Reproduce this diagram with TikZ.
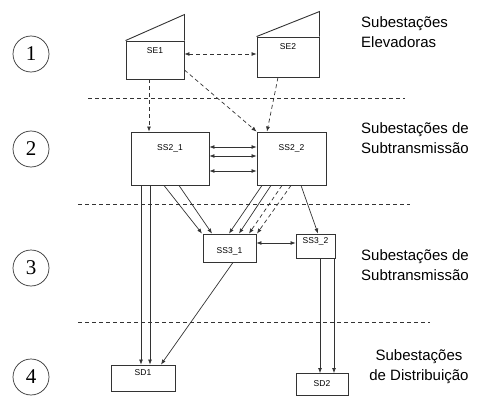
\documentclass[tikz,border=0pt]{standalone}
\usepackage{fontspec}
\setmainfont{Liberation Sans}
\newfontfamily\numfont{Liberation Serif}
\usepackage{xcolor}
\usetikzlibrary{arrows.meta,positioning}
\definecolor{linegray}{HTML}{333333}

\begin{document}
\begin{tikzpicture}[
  x=1pt,
  y=-1pt,
  station/.style={draw=linegray, line width=0.9pt, fill=white, inner sep=0pt},
  boxlabel/.style={font=\fontsize{8.5}{10}\selectfont, anchor=center, inner sep=0pt},
  levelmark/.style={draw=linegray, circle, minimum size=36pt, inner sep=0pt, line width=0.7pt,
    font=\numfont\fontsize{21}{21}\selectfont},
  levelname/.style={font=\fontsize{15}{20}\selectfont, align=left, anchor=west, inner sep=0pt},
  arrow/.style={-{Latex[length=5pt,width=4pt]}, line width=0.7pt, draw=linegray},
  twoway/.style={{Latex[length=5pt,width=4pt]}-{Latex[length=5pt,width=4pt]}, line width=0.7pt, draw=linegray},
  dashedline/.style={dash pattern=on 4pt off 3pt},
  separator/.style={draw=linegray, line width=0.7pt, dash pattern=on 4pt off 3pt}
]
\useasboundingbox (0,0) rectangle (477,396);

\node[levelmark] (n1) at (31,54) {1};
\node[levelmark] (n2) at (31,149) {2};
\node[levelmark] (n3) at (31,268) {3};
\node[levelmark] (n4) at (31,377) {4};

\node[levelname] (cap1) at (361,32) {Subestações\\Elevadoras};
\node[levelname] (cap2) at (361,138) {Subestações de\\Subtransmissão};
\node[levelname] (cap3) at (361,265) {Subestações de\\Subtransmissão};
\node[levelname, align=center, anchor=center] (cap4) at (419,367) {Subestações\\de Distribuição};

\draw[separator] (88,98) -- (405,98);
\draw[separator] (78,204) -- (410,204);
\draw[separator] (78,322) -- (430,322);

\node[station, minimum width=58pt, minimum height=38pt, label={[boxlabel,yshift=-10pt]north:SE1}] (se1) at (155,60) {};
\node[station, minimum width=62pt, minimum height=40pt, label={[boxlabel,yshift=-10pt]north:SE2}] (se2) at (288,57) {};
\draw[linegray, line width=0.9pt] (se1.north west) -- ([yshift=26pt]se1.north east) -- (se1.north east);
\draw[linegray, line width=0.9pt] (se2.north west) -- ([yshift=25pt]se2.north east) -- (se2.north east);

\node[station, minimum width=78pt, minimum height=53pt, label={[boxlabel,yshift=-17pt]north:SS2\_1}] (ss21) at (170,158.5) {};
\node[station, minimum width=69pt, minimum height=53pt, label={[boxlabel,yshift=-17pt]north:SS2\_2}] (ss22) at (291.5,158.5) {};
\node[station, minimum width=53pt, minimum height=28pt, label={[boxlabel,yshift=-18pt]north:SS3\_1}] (ss31) at (229.5,248) {};
\node[station, minimum width=39pt, minimum height=24pt, label={[boxlabel,yshift=-8pt]north:SS3\_2}] (ss32) at (315.5,246) {};
\node[station, minimum width=64pt, minimum height=26pt, label={[boxlabel,yshift=-8pt]north:SD1}] (sd1) at (143,378) {};
\node[station, minimum width=52pt, minimum height=22pt, label={[boxlabel,yshift=-11pt]north:SD2}] (sd2) at (322,384.5) {};

\draw[twoway, dashedline] ([yshift=6pt]se1.east) -- ([yshift=3pt]se2.west);
\draw[arrow, dashedline] ([xshift=-6pt]se1.south) -- ([xshift=-21pt]ss21.north);
\draw[arrow, dashedline] ([yshift=-10pt]se1.east) -- (ss22.north west);
\draw[arrow, dashedline] ([xshift=-10pt]se2.south) -- ([xshift=-24.5pt]ss22.north);

\draw[twoway] ([yshift=11.5pt]ss21.east) -- ([yshift=11.5pt]ss22.west);
\draw[twoway] ([yshift=2.5pt]ss21.east) -- ([yshift=2.5pt]ss22.west);
\draw[twoway] ([yshift=-12.5pt]ss21.east) -- ([yshift=-12.5pt]ss22.west);

\draw[arrow] ([xshift=-6pt]ss21.south) -- ([xshift=-27.5pt]ss31.north);
\draw[arrow] ([xshift=9pt]ss21.south) -- ([xshift=-17.5pt]ss31.north);
\draw[arrow] ([xshift=-29.5pt]ss22.south) -- ([xshift=-0.5pt]ss31.north);
\draw[arrow] ([xshift=-20.5pt]ss22.south) -- ([xshift=9.5pt]ss31.north);
\draw[arrow, dashedline] ([xshift=-9.5pt]ss22.south) -- ([xshift=19.5pt]ss31.north);
\draw[arrow, dashedline] ([xshift=-0.5pt]ss22.south) -- ([xshift=27.5pt]ss31.north);
\draw[arrow] ([xshift=9.5pt]ss22.south) -- ([xshift=2.5pt]ss32.north);

\draw[twoway] ([yshift=5pt]ss31.east) -- ([yshift=3pt]ss32.west);

\draw[arrow] ([xshift=-29pt]ss21.south) -- ([xshift=-2pt]sd1.north);
\draw[arrow] ([xshift=-20pt]ss21.south) -- ([xshift=7pt]sd1.north);
\draw[arrow] ([xshift=3.5pt]ss31.south) -- ([xshift=18pt]sd1.north);
\draw[arrow] ([xshift=4.5pt]ss32.south) -- ([xshift=-2pt]sd2.north);
\draw[arrow] ([xshift=18.5pt]ss32.south) -- ([xshift=12pt]sd2.north);
\end{tikzpicture}
\end{document}
